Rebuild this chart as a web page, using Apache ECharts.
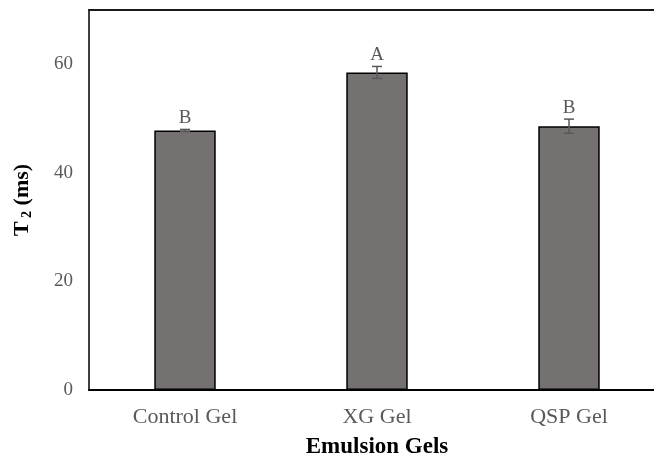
<!DOCTYPE html>
<html><head><meta charset="utf-8">
<script src="https://cdn.jsdelivr.net/npm/echarts@6/dist/echarts.min.js"></script>
<style>html,body{margin:0;padding:0;background:#fff}#c{width:654px;height:460px}</style>
</head><body><div id="c"></div>
<script>
const categories = ['Control Gel', 'XG Gel', 'QSP Gel'];
const values = [47.8, 58.5, 48.6];
const errors = [0.2, 1.1, 1.3];
const letters = ['B', 'A', 'B'];
const yTicks = [0, 20, 40, 60];

const chart = echarts.init(document.getElementById('c'));
const font = 'Liberation Serif, Times New Roman, serif';
chart.setOption({
  animation: false,
  grid: { left: 89, right: -11, top: 10, bottom: 70, outerBoundsMode: 'none' },
  xAxis: [{
    type: 'category', data: categories,
    axisLine: { lineStyle: { color: '#000', width: 2 } },
    axisTick: { show: false },
    axisLabel: { color: '#595959', fontFamily: font, fontSize: 22, margin: 16 },
    name: 'Emulsion Gels', nameLocation: 'middle', nameGap: 46,
    nameTextStyle: { color: '#000', fontFamily: font, fontSize: 23, fontWeight: 'bold' }
  }, {
    type: 'category', data: categories, position: 'top',
    axisLine: { lineStyle: { color: '#1a1a1a', width: 2 } },
    axisTick: { show: false }, axisLabel: { show: false }
  }],
  yAxis: {
    type: 'value', min: 0, max: 70, interval: 20,
    axisLine: { show: true, lineStyle: { color: '#404040', width: 2 } },
    axisTick: { show: false },
    splitLine: { show: false },
    axisLabel: { color: '#595959', fontFamily: font, fontSize: 19, margin: 16,
      formatter: v => yTicks.includes(v) ? String(v) : '' },
    name: '{t|T}{s| 2}{t| (ms)}', nameLocation: 'middle', nameGap: 55, nameRotate: 90,
    nameTextStyle: { rich: {
      t: { color: '#000', fontFamily: font, fontSize: 22, fontWeight: 'bold' },
      s: { color: '#000', fontFamily: font, fontSize: 14, fontWeight: 'bold', verticalAlign: 'bottom', padding: [10,0,0,0] }
    } }
  },
  series: [{
    type: 'bar', data: values, barWidth: '32%', z: 2,
    itemStyle: { color: '#767171', borderColor: '#000', borderWidth: 1.5 }
  }, {
    type: 'custom', z: 10,
    data: values.map((v, i) => [i, v, errors[i], letters[i]]),
    renderItem: (params, api) => {
      const x = api.coord([api.value(0), 0])[0];
      const hi = api.coord([api.value(0), api.value(1) + api.value(2)])[1];
      const lo = api.coord([api.value(0), api.value(1) - api.value(2)])[1];
      const w = 5;
      const st = { stroke: '#595959', lineWidth: 1.5 };
      return { type: 'group', children: [
        { type: 'line', shape: { x1: x, y1: hi, x2: x, y2: lo }, style: st },
        { type: 'line', shape: { x1: x - w, y1: hi, x2: x + w, y2: hi }, style: st },
        { type: 'line', shape: { x1: x - w, y1: lo, x2: x + w, y2: lo }, style: st },
        { type: 'text', x: x, y: hi - 2, style: { text: api.value(3), fill: '#595959',
          font: '19px ' + font, textAlign: 'center', textVerticalAlign: 'bottom' } }
      ] };
    }
  }]
});
</script></body></html>
